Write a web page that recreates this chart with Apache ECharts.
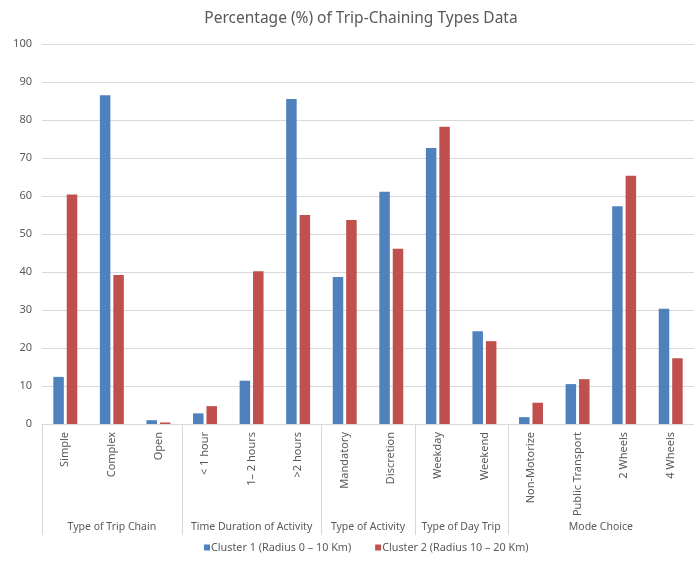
<!DOCTYPE html>
<html>
<head>
<meta charset="utf-8">
<script src="https://cdn.jsdelivr.net/npm/echarts@6/dist/echarts.min.js"></script>
<style>
  html, body { margin: 0; padding: 0; background: #fff; }
  #chart { width: 694px; height: 562px; }
</style>
</head>
<body>
<div id="chart"></div>
<script>
const categories = ['Simple', 'Complex', 'Open', '< 1 hour', '1\u2013 2 hours', '>2 hours',
  'Mandatory', 'Discretion', 'Weekday', 'Weekend',
  'Non-Motorize', 'Public Transport', '2 Wheels', '4 Wheels'];
const groupNames = ['Type of Trip Chain', 'Time Duration of Activity', 'Type of Activity', 'Type of Day Trip', 'Mode Choice'];
const groupSizes = [3, 3, 2, 2, 4];
const cluster1 = [12.4, 86.5, 1.0, 2.8, 11.4, 85.5, 38.7, 61.1, 72.6, 24.4, 1.8, 10.5, 57.3, 30.3];
const cluster2 = [60.4, 39.2, 0.4, 4.7, 40.2, 55.0, 53.7, 46.1, 78.2, 21.8, 5.6, 11.8, 65.3, 17.3];
const seriesNames = ['Cluster 1 (Radius 0 \u2013 10 Km)', 'Cluster 2 (Radius 10 \u2013 20 Km)'];
const yTicks = [0, 10, 20, 30, 40, 50, 60, 70, 80, 90, 100];

const FONT = '"Noto Sans", "Open Sans", sans-serif';
const TXT = '#595959';
const GRID = '#d9d9d9';

const chart = echarts.init(document.getElementById('chart'), null, { renderer: 'canvas' });
const option = {
  animation: false,
  backgroundColor: '#fff',
  title: {
    text: 'Percentage (%) of Trip-Chaining Types Data',
    left: 356, top: 6, textAlign: 'center',
    textStyle: { fontFamily: FONT, fontSize: 15.5, fontWeight: 'normal', color: TXT }
  },
  legend: {
    data: seriesNames,
    bottom: 4, left: 199,
    itemWidth: 6, itemHeight: 6, itemGap: 24,
    icon: 'rect',
    textStyle: { fontFamily: FONT, fontSize: 10.8, color: TXT, padding: [0, 0, 0, -4] }
  },
  grid: { left: 42, top: 44, width: 658, height: 380 },
  xAxis: {
    type: 'category',
    data: categories,
    axisLine: { lineStyle: { color: GRID, width: 1 } },
    axisTick: { show: false },
    axisLabel: { rotate: 90, interval: 0, margin: 8, fontFamily: FONT, fontSize: 11, color: TXT }
  },
  yAxis: {
    type: 'value', min: yTicks[0], max: yTicks[yTicks.length - 1], interval: 10,
    axisLine: { show: false }, axisTick: { show: false },
    axisLabel: { margin: 10, fontFamily: FONT, fontSize: 11, color: TXT },
    splitLine: { lineStyle: { color: GRID, width: 1 } }
  },
  series: [
    { name: seriesNames[0], type: 'bar', data: cluster1, barWidth: 10.5, barGap: '28%',
      itemStyle: { color: '#4F81BD' } },
    { name: seriesNames[1], type: 'bar', data: cluster2, barWidth: 10.5, barGap: '28%',
      itemStyle: { color: '#C0504D' } }
  ]
};
chart.setOption(option);

// group separators and labels derived from axis scale
const c0 = chart.convertToPixel({ xAxisIndex: 0 }, categories[0]);
const c1 = chart.convertToPixel({ xAxisIndex: 0 }, categories[1]);
const band = c1 - c0;
const y0 = chart.convertToPixel({ yAxisIndex: 0 }, 0);
const graphics = [];
let start = 0;
for (let g = 0; g <= groupSizes.length; g++) {
  const xb = c0 - band / 2 + start * band;
  graphics.push({ type: 'line', silent: true,
    shape: { x1: Math.round(xb) + 0.5, y1: y0, x2: Math.round(xb) + 0.5, y2: y0 + 111 },
    style: { stroke: GRID, lineWidth: 1 } });
  if (g < groupSizes.length) {
    const xc = xb + groupSizes[g] * band / 2;
    graphics.push({ type: 'text', silent: true, x: xc, y: y0 + 103,
      style: { text: groupNames[g], fill: TXT, font: '10.5px ' + FONT, align: 'center', verticalAlign: 'middle' } });
    start += groupSizes[g];
  }
}
chart.setOption({ graphic: graphics });
</script>
</body>
</html>
